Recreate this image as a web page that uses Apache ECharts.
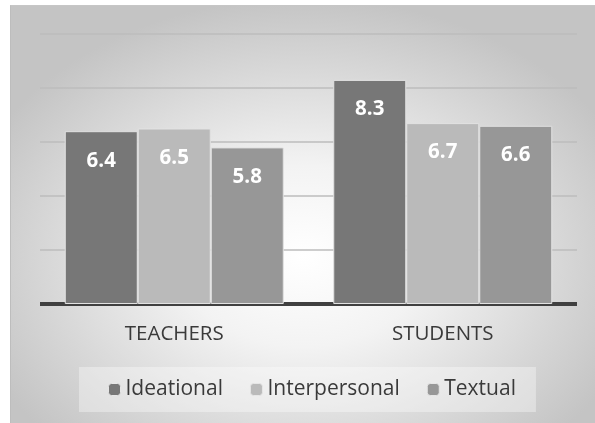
<!DOCTYPE html>
<html>
<head>
    <meta charset="utf-8">
    <title>Metafunctions</title>
    <script src="https://cdn.jsdelivr.net/npm/echarts@6/dist/echarts.min.js"></script>
    <style>
        html, body { margin: 0; padding: 0; background: #ffffff; }
        #bg {
            position: absolute; left: 10px; top: 5px; width: 585px; height: 418px;
            border-left: 1px solid #bdbdbd; border-top: 1px solid #c6c6c6;
            box-sizing: border-box;
            background: radial-gradient(ellipse 60% 62% at 50% 60%, #ffffff 0%, #f3f3f3 35%, #d6d6d6 75%, #c4c4c4 100%);
        }
        #main { position: absolute; left: 0; top: 0; width: 595px; height: 423px; }
    </style>
</head>
<body>
    <div id="bg"></div>
    <div id="main"></div>
    <script type="text/javascript">
        // data
        var categories = ['TEACHERS', 'STUDENTS'];
        var ideational = [6.4, 8.3];
        var interpersonal = [6.5, 6.7];
        var textual = [5.8, 6.6];
        var seriesNames = ['Ideational', 'Interpersonal', 'Textual'];
        var seriesColors = ['#777777', '#bababa', '#979797'];

        var myChart = echarts.init(document.getElementById('main'));

        function makeSeries(name, data, color) {
            return {
                name: name,
                type: 'bar',
                data: data,
                barWidth: 73,
                barGap: '0%',
                itemStyle: {
                    color: color,
                    borderColor: '#e2e2e2',
                    borderWidth: 1
                },
                label: {
                    show: true,
                    position: 'insideTop',
                    distance: 19,
                    color: '#ffffff',
                    fontFamily: 'Open Sans',
                    fontWeight: 'bold',
                    fontSize: 20.5
                }
            };
        }

        var option = {
            animation: false,
            backgroundColor: 'transparent',
            grid: {
                left: 40,
                right: 18,
                top: 34,
                bottom: 119
            },
            legend: {
                data: seriesNames,
                bottom: 11,
                left: 79,
                itemWidth: 12,
                itemHeight: 12,
                itemGap: 27,
                padding: [12, 20, 12, 29],
                backgroundColor: 'rgba(255,255,255,0.35)',
                itemStyle: { borderColor: '#e6e6e6', borderWidth: 1 },
                textStyle: {
                    fontFamily: 'Open Sans',
                    fontSize: 21,
                    color: '#3a3a3a'
                }
            },
            xAxis: {
                type: 'category',
                data: categories,
                axisTick: { show: false },
                axisLine: { lineStyle: { color: '#404040', width: 4, cap: 'butt' } },
                axisLabel: {
                    margin: 20,
                    fontFamily: 'Open Sans',
                    fontSize: 20.5,
                    color: '#3a3a3a'
                }
            },
            yAxis: {
                type: 'value',
                min: 0,
                max: 10,
                interval: 2,
                axisLabel: { show: false },
                axisLine: { show: false },
                axisTick: { show: false },
                splitLine: { lineStyle: { color: '#bdbdbd', width: 1.5 } }
            },
            series: [
                makeSeries(seriesNames[0], ideational, seriesColors[0]),
                makeSeries(seriesNames[1], interpersonal, seriesColors[1]),
                makeSeries(seriesNames[2], textual, seriesColors[2])
            ]
        };

        myChart.setOption(option);
    </script>
</body>
</html>
